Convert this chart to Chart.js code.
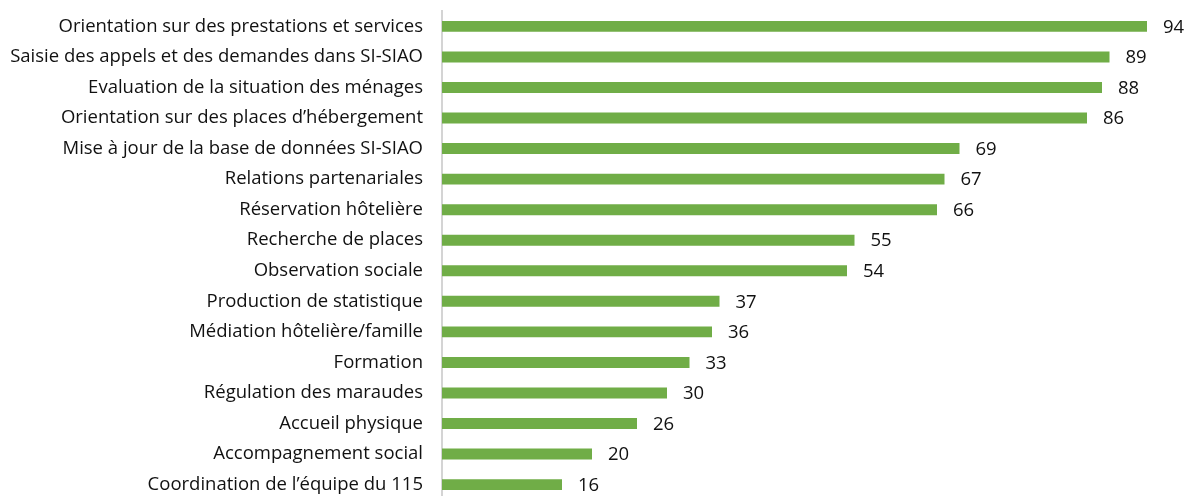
<!DOCTYPE html>
<html lang="fr">
<head>
<meta charset="utf-8">
<title>Missions</title>
<script src="https://cdn.jsdelivr.net/npm/chart.js@4/dist/chart.umd.min.js"></script>
<style>
    html, body { margin: 0; padding: 0; background: #fff; overflow: hidden; }
    #wrap { position: relative; width: 1192px; height: 511px; }
</style>
</head>
<body>
<div id="wrap"><canvas id="missionsChart"></canvas></div>
<script>
// Activités et nombre de réponses
const categories = [
    'Orientation sur des prestations et services',
    'Saisie des appels et des demandes dans SI-SIAO',
    'Evaluation de la situation des ménages',
    'Orientation sur des places d\u2019hébergement',
    'Mise à jour de la base de données SI-SIAO',
    'Relations partenariales',
    'Réservation hôtelière',
    'Recherche de places',
    'Observation sociale',
    'Production de statistique',
    'Médiation hôtelière/famille',
    'Formation',
    'Régulation des maraudes',
    'Accueil physique',
    'Accompagnement social',
    'Coordination de l\u2019équipe du 115'
];
const valeurs = [94, 89, 88, 86, 69, 67, 66, 55, 54, 37, 36, 33, 30, 26, 20, 16];

const vert = '#70AD47';
const police = '"Open Sans", sans-serif';

// Valeurs écrites à droite de chaque barre
const etiquettes = {
    id: 'etiquettes',
    afterDatasetsDraw(chart) {
        const ctx = chart.ctx;
        const meta = chart.getDatasetMeta(0);
        ctx.save();
        ctx.font = '18.5px ' + police;
        ctx.fillStyle = '#111';
        ctx.textAlign = 'left';
        ctx.textBaseline = 'middle';
        meta.data.forEach((bar, i) => {
            ctx.fillText(String(valeurs[i]), bar.x + 16, bar.y + 1);
        });
        ctx.restore();
    }
};

new Chart(document.getElementById('missionsChart'), {
    type: 'bar',
    data: {
        labels: categories,
        datasets: [{
            data: valeurs,
            backgroundColor: vert,
            borderWidth: 0,
            categoryPercentage: 1,
            barPercentage: 0.36
        }]
    },
    options: {
        indexAxis: 'y',
        responsive: true,
        maintainAspectRatio: false,
        animation: false,
        layout: { padding: { top: 11, bottom: 0, left: 0, right: 0 } },
        plugins: {
            legend: { display: false },
            tooltip: { enabled: false }
        },
        scales: {
            x: {
                display: false,
                min: 0,
                max: 100
            },
            y: {
                afterFit: (scale) => { scale.width = 442; },
                // écart entre libellés et axe via une graduation invisible
                grid: {
                    display: true,
                    drawOnChartArea: false,
                    drawTicks: true,
                    tickLength: 19,
                    color: 'rgba(0,0,0,0)'
                },
                border: { display: true, color: '#d4d4d4', width: 2 },
                ticks: {
                    padding: 0,
                    color: '#111',
                    font: { size: 18.5, family: police }
                }
            }
        }
    },
    plugins: [etiquettes]
});
</script>
</body>
</html>
